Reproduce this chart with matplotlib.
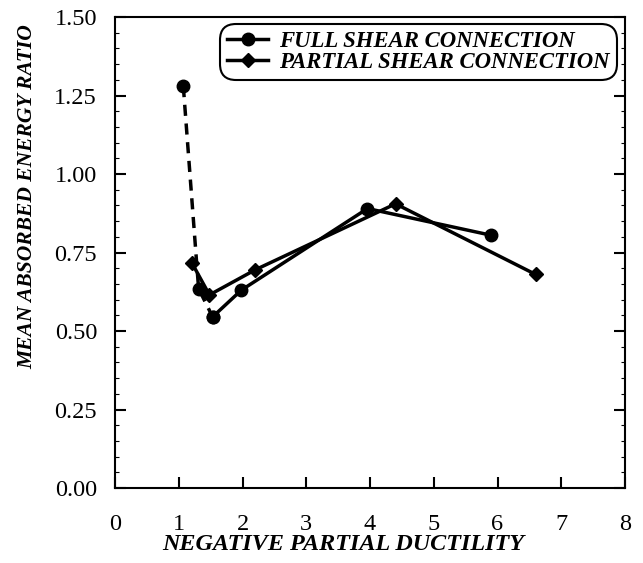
import matplotlib.pyplot as plt
from matplotlib.lines import Line2D
from matplotlib.ticker import MultipleLocator

plt.rcParams['font.family'] = ['Liberation Serif', 'DejaVu Serif']

# full shear connection (first three points joined by a dashed line)
full_x = [1.07, 1.31, 1.53, 1.98, 3.96, 5.90]
full_y = [1.28, 0.635, 0.545, 0.63, 0.89, 0.805]
n_dashed = 3

# partial shear connection
part_x = [1.21, 1.48, 2.20, 4.40, 6.60]
part_y = [0.715, 0.615, 0.695, 0.905, 0.68]

xticks = [0, 1, 2, 3, 4, 5, 6, 7, 8]
yticks = [0.00, 0.25, 0.50, 0.75, 1.00, 1.25, 1.50]

fig = plt.figure(figsize=(6.43, 5.63), dpi=100)
ax = fig.add_axes([0.179, 0.1332, 0.793, 0.8366])

lw = 2.5
ax.plot(full_x[:n_dashed], full_y[:n_dashed], color='black', lw=lw,
        ls=(0, (3.2, 2.2)), marker='o', ms=9)
ax.plot(full_x[n_dashed - 1:], full_y[n_dashed - 1:], color='black', lw=lw,
        marker='o', ms=9)
ax.plot(part_x, part_y, color='black', lw=lw, marker='D', ms=7.5)

ax.set_xlim(0, 8)
ax.set_ylim(0, 1.5)
ax.set_xticks(xticks)
ax.set_yticks(yticks)
ax.set_xticklabels([str(v) for v in xticks])
ax.set_yticklabels(['%.2f' % v for v in yticks])
ax.yaxis.set_minor_locator(MultipleLocator(0.05))
ax.tick_params(which='major', direction='in', length=8, width=1.5,
               labelsize=17.5, right=True)
ax.tick_params(axis='x', pad=19)
ax.tick_params(axis='y', pad=13)
ax.tick_params(which='minor', direction='in', length=3, width=0.8, right=True)
for s in ax.spines.values():
    s.set_linewidth(1.5)

fig.text(0.534, 0.032, 'NEGATIVE PARTIAL DUCTILITY', ha='center', va='center',
         fontsize=17.4, fontweight='bold', fontstyle='italic')
fig.text(0.043, 0.651, 'MEAN ABSORBED ENERGY RATIO', ha='center', va='center',
         rotation=90, fontsize=15.5, fontweight='bold', fontstyle='italic')

handles = [
    Line2D([], [], color='black', lw=lw, marker='o', ms=9),
    Line2D([], [], color='black', lw=lw, marker='D', ms=7.5),
]
leg = ax.legend(handles, ['FULL SHEAR CONNECTION', 'PARTIAL SHEAR CONNECTION'],
                loc='upper right', bbox_to_anchor=(0.984, 0.985), borderaxespad=0,
                prop=dict(family='Liberation Serif', weight='bold', style='italic', size=16.4),
                handlelength=1.8, handletextpad=0.5, labelspacing=0.0,
                borderpad=0.3, fancybox=True, framealpha=1, edgecolor='black')
leg.get_frame().set_linewidth(1.5)
leg.get_frame().set_boxstyle('round', pad=0, rounding_size=0.7)

fig.savefig('out.png', dpi=100)
